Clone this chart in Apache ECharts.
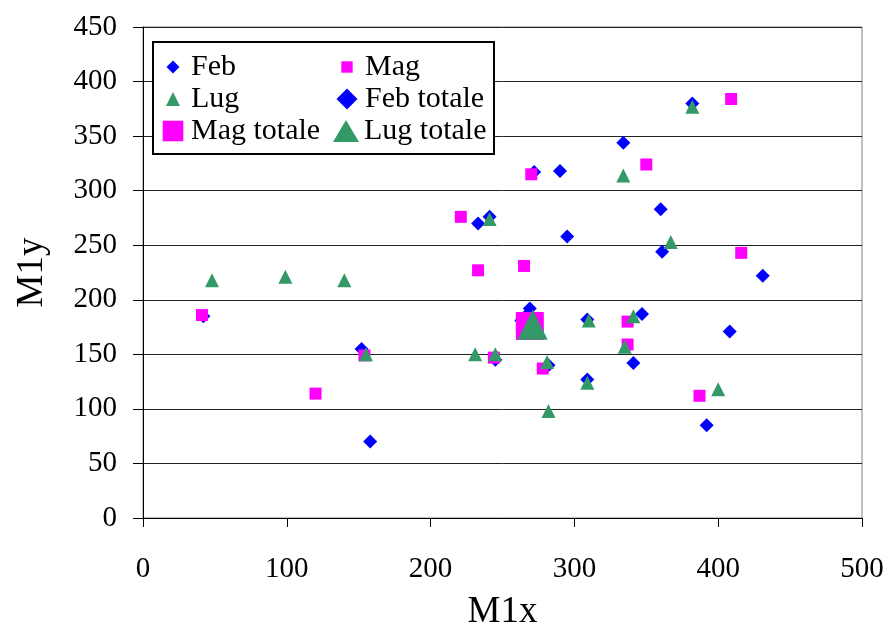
<!DOCTYPE html>
<html>
<head>
<meta charset="utf-8">
<script src="https://cdn.jsdelivr.net/npm/echarts@6/dist/echarts.min.js"></script>
<style>
  html, body { margin: 0; padding: 0; background: #fff; }
  #chart { width: 889px; height: 628px; }
</style>
</head>
<body>
<div id="chart"></div>
<script>
// values, [M1x, M1y]
const febPoints = [
  [42, 185], [152, 155], [158, 70], [245, 145], [272, 317], [290, 318],
  [233, 270], [241, 276], [295, 258], [360, 283], [361, 244], [382, 380],
  [334, 344], [431, 222], [408, 171], [392, 85], [347, 187], [269, 192],
  [309, 182], [282, 140], [309, 127], [341, 142]
];
const magPoints = [
  [41, 186], [120, 114], [154, 149], [233, 227], [244, 147], [221, 276],
  [270, 315], [265, 231], [350, 324], [409, 384], [416, 243], [387, 112],
  [337, 180], [337, 159], [278, 137]
];
const lugPoints = [
  [48, 218], [99, 221], [140, 218], [155, 150], [231, 150], [245, 150],
  [241, 274], [334, 314], [382, 377], [367, 253], [400, 118], [310, 181],
  [341, 185], [335, 157], [281, 143], [309, 124], [282, 98]
];
const febTotale = [[268, 181]];
const magTotale = [[269, 176]];
const lugTotale = [[271, 177]];

const seriesNames = ["Feb", "Mag", "Lug", "Feb totale", "Mag totale", "Lug totale"];
const xTicks = [0, 100, 200, 300, 400, 500];
const yTicks = [0, 50, 100, 150, 200, 250, 300, 350, 400, 450];

const BLUE = "#0000FF";
const PINK = "#FF00FF";
const GREEN = "#339966";
const FONT = "Liberation Serif";

// legend icons: small markers padded inside the 22px legend box
const legendIcons = {
  "Feb": "path://M0,0M22,22M11,4.5L17.5,11L11,17.5L4.5,11Z",
  "Mag": "path://M0,0M22,22M5.3,5.3L16.7,5.3L16.7,16.7L5.3,16.7Z",
  "Lug": "path://M0,0M22,22M11,4L18,18L4,18Z",
  "Feb totale": "path://M0,0M22,22M11,0.5L21.5,11L11,21.5L0.5,11Z",
  "Mag totale": "path://M0,0M22,22M0.7,0.7L21.3,0.7L21.3,21.3L0.7,21.3Z",
  "Lug totale": "triangle"
};
// text box widths so the legend lines up in two columns
const legendTextWidths = [143, 125, 143, 125, 140, 125];

function scatter(name, data, symbol, size, color) {
  return {
    name: name,
    type: "scatter",
    data: data,
    symbol: symbol,
    symbolSize: size,
    itemStyle: { color: color, opacity: 1 },
    emphasis: { disabled: true }
  };
}

var myChart = echarts.init(document.getElementById("chart"));

let option = {
  animation: false,
  backgroundColor: "#fff",
  grid: {
    left: 143,
    right: 27,
    top: 27,
    bottom: 110,
    containLabel: false,
    outerBoundsMode: "none",
    show: true,
    borderColor: "#808080",
    borderWidth: 1
  },
  legend: {
    left: 153,
    top: 42,
    orient: "horizontal",
    width: 338,
    itemWidth: 26,
    itemHeight: 22,
    itemGap: 2,
    padding: [10, 4, 8, 9],
    backgroundColor: "#fff",
    borderColor: "#000",
    borderWidth: 2,
    borderRadius: 0,
    textStyle: {
      fontFamily: FONT,
      fontSize: 30,
      color: "#000",
      lineHeight: 24
    },
    data: seriesNames.map(function(n, i) {
      return {
        name: n,
        icon: legendIcons[n],
        textStyle: { width: legendTextWidths[i] }
      };
    })
  },
  xAxis: {
    type: "value",
    min: xTicks[0],
    max: xTicks[xTicks.length - 1],
    interval: 100,
    name: "M1x",
    nameLocation: "middle",
    nameGap: 76,
    nameTextStyle: { fontFamily: FONT, fontSize: 37, color: "#000" },
    axisLine: { show: true, lineStyle: { color: "#000", width: 1 } },
    axisTick: { show: true, inside: false, length: 9, lineStyle: { color: "#000" } },
    axisLabel: { margin: 37, fontFamily: FONT, fontSize: 29, color: "#000" },
    splitLine: { show: false }
  },
  yAxis: {
    type: "value",
    min: yTicks[0],
    max: yTicks[yTicks.length - 1],
    interval: 50,
    name: "M1y",
    nameLocation: "middle",
    nameGap: 92,
    nameTextStyle: { fontFamily: FONT, fontSize: 37, color: "#000" },
    axisLine: { show: true, lineStyle: { color: "#000", width: 1 } },
    axisTick: { show: true, inside: false, length: 10, lineStyle: { color: "#000" } },
    axisLabel: { margin: 26, fontFamily: FONT, fontSize: 29, color: "#000" },
    splitLine: { show: true, lineStyle: { color: "#222", width: 1 } }
  },
  series: [
    scatter("Feb", febPoints, "diamond", 14, BLUE),
    scatter("Mag", magPoints, "rect", 12, PINK),
    scatter("Lug", lugPoints, "triangle", 14, GREEN),
    scatter("Feb totale", febTotale, "diamond", 28, BLUE),
    scatter("Mag totale", magTotale, "rect", 28, PINK),
    scatter("Lug totale", lugTotale, "triangle", 30, GREEN)
  ]
};
myChart.setOption(option);
</script>
</body>
</html>
